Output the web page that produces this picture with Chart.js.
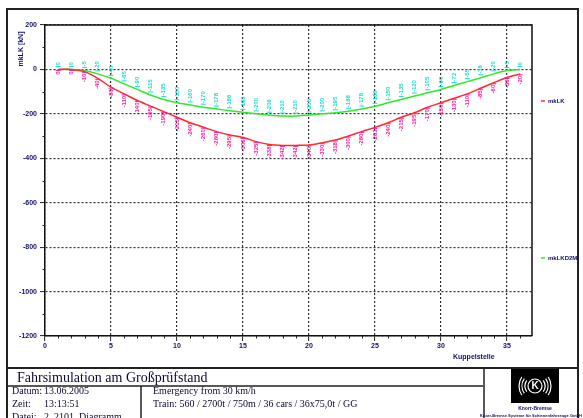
<!DOCTYPE html>
<html>
<head>
<meta charset="utf-8">
<script src="https://cdn.jsdelivr.net/npm/chart.js@4/dist/chart.umd.min.js"></script>
<style>
  html, body { margin: 0; padding: 0; background: #fff; }
  #wrap { width: 583px; height: 418px; position: relative; }
</style>
</head>
<body>
<div id="wrap"><canvas id="chart" width="583" height="418"></canvas></div>
<script>
// Kuppelstelle 1..36
const kuppelstelle = [1,2,3,4,5,6,7,8,9,10,11,12,13,14,15,16,17,18,19,20,21,22,23,24,25,26,27,28,29,30,31,32,33,34,35,36];
const mkLK = [0,0,-10,-40,-80,-110,-140,-165,-190,-215,-240,-260,-280,-295,-306,-325,-338,-342,-342,-340,-330,-318,-300,-280,-261,-240,-215,-195,-170,-150,-130,-110,-85,-60,-36,-20];
const mkLKD2M = [0,0,-5,-20,-40,-65,-90,-115,-135,-150,-160,-170,-178,-186,-193,-200,-206,-210,-210,-205,-200,-195,-188,-178,-166,-150,-135,-120,-105,-90,-72,-55,-38,-20,-5,0];
const seriesNames = ['mkLK', 'mkLKD2M'];
const seriesColors = ['#ff2a2a', '#2ee82e'];
const labelColors = ['#ff1aa0', '#19dcd0'];

const toPoints = vals => kuppelstelle.map((k, i) => ({ x: k, y: vals[i] }));

// frame, info box, minor ticks, value labels, legend
const decor = {
  id: 'decor',
  beforeDraw(chart) {
    const ctx = chart.ctx;
    ctx.save();
    ctx.fillStyle = '#fff';
    ctx.fillRect(0, 0, chart.width, chart.height);
    ctx.restore();
  },
  afterDraw(chart) {
    const ctx = chart.ctx;
    const xs = chart.scales.x, ys = chart.scales.y;
    const a = chart.chartArea;
    ctx.save();

    // outer frame
    ctx.strokeStyle = '#222';
    ctx.lineWidth = 2;
    ctx.beginPath();
    ctx.moveTo(7, 420); ctx.lineTo(7, 9); ctx.lineTo(578, 9); ctx.lineTo(578, 420);
    ctx.stroke();

    // plot box top/right
    ctx.lineWidth = 1.5;
    ctx.strokeStyle = '#111';
    ctx.beginPath();
    ctx.moveTo(a.left, a.top); ctx.lineTo(a.right, a.top); ctx.lineTo(a.right, a.bottom);
    ctx.stroke();

    // minor ticks
    ctx.lineWidth = 1;
    ctx.strokeStyle = '#222';
    ctx.beginPath();
    for (let v = 1; v < 37; v++) {
      if (v % 5 === 0) continue;
      const px = Math.round(xs.getPixelForValue(v)) + 0.5;
      ctx.moveTo(px, a.bottom); ctx.lineTo(px, a.bottom + 2.5);
    }
    for (let v = -1100; v < 200; v += 200) {
      const py = Math.round(ys.getPixelForValue(v)) + 0.5;
      ctx.moveTo(a.left - 2.5, py); ctx.lineTo(a.left, py);
    }
    ctx.stroke();

    // value labels at every point
    ctx.font = 'bold 6px "Liberation Sans", Arial, sans-serif';
    ctx.textBaseline = 'middle';
    [mkLK, mkLKD2M].forEach((vals, s) => {
      vals.forEach((v, i) => {
        const px = xs.getPixelForValue(kuppelstelle[i]);
        const py = ys.getPixelForValue(v);
        ctx.save();
        ctx.fillStyle = labelColors[s];
        ctx.strokeStyle = labelColors[s];
        ctx.lineWidth = 1;
        ctx.beginPath();
        if (s === 0) {
          ctx.moveTo(px - 2.5, py + 1); ctx.lineTo(px + 2.5, py + 1);
        } else {
          ctx.moveTo(px - 2.5, py - 3); ctx.lineTo(px + 2.5, py - 3);
        }
        ctx.stroke();
        ctx.translate(px, s === 0 ? py + 2 : py - 4);
        ctx.rotate(-Math.PI / 2);
        ctx.textAlign = s === 0 ? 'right' : 'left';
        ctx.fillText(String(Math.round(v)), 0, 0);
        ctx.restore();
      });
    });

    // axis titles
    ctx.fillStyle = '#10106a';
    ctx.font = 'bold 7px "Liberation Sans", Arial, sans-serif';
    ctx.save();
    ctx.translate(21, 49);
    ctx.rotate(-Math.PI / 2);
    ctx.textAlign = 'center';
    ctx.textBaseline = 'middle';
    ctx.fillText('mkLK [kN]', 0, 0);
    ctx.restore();
    ctx.textAlign = 'left';
    ctx.textBaseline = 'middle';
    ctx.fillText('Kuppelstelle', 453, 357);

    // legend
    const legY = [101, 258];
    seriesNames.forEach((n, s) => {
      ctx.strokeStyle = seriesColors[s];
      ctx.lineWidth = 1.5;
      ctx.beginPath();
      ctx.moveTo(541, legY[s]); ctx.lineTo(545, legY[s]);
      ctx.stroke();
      ctx.fillStyle = '#10106a';
      ctx.font = 'bold 6px "Liberation Sans", Arial, sans-serif';
      ctx.fillText(n, 548, legY[s]);
    });

    // info box
    ctx.strokeStyle = '#222';
    ctx.lineWidth = 2;
    ctx.beginPath();
    ctx.moveTo(7, 368); ctx.lineTo(578, 368);
    ctx.stroke();
    ctx.lineWidth = 1.5;
    ctx.beginPath();
    ctx.moveTo(7, 386); ctx.lineTo(483, 386);
    ctx.moveTo(484, 368); ctx.lineTo(484, 420);
    ctx.moveTo(141, 386); ctx.lineTo(141, 420);
    ctx.stroke();

    ctx.fillStyle = '#0a0a30';
    ctx.textBaseline = 'alphabetic';
    ctx.font = '14px "Liberation Serif", "Times New Roman", serif';
    ctx.fillText('Fahrsimulation am Großprüfstand', 17, 382);
    ctx.font = '10px "Liberation Serif", "Times New Roman", serif';
    ctx.fillText('Datum:', 12, 394);
    ctx.fillText('13.06.2005', 44, 394);
    ctx.fillText('Zeit:', 12, 407);
    ctx.fillText('13:13:51', 44, 407);
    ctx.fillText('Datei:', 12, 420);
    ctx.fillText('2_2101_Diagramm', 44, 420);
    ctx.fillText('Emergency from 30 km/h', 153, 394);
    ctx.fillText('Train: 560 / 2700t / 750m / 36 cars / 36x75,0t / GG', 153, 407);

    // logo
    ctx.fillStyle = '#000';
    ctx.fillRect(511, 369, 48, 34);
    ctx.strokeStyle = '#fff';
    ctx.lineWidth = 1.2;
    ctx.beginPath();
    ctx.arc(535, 386, 7, 0, Math.PI * 2);
    ctx.stroke();
    [10, 13, 16].forEach(r => {
      ctx.beginPath(); ctx.arc(535, 386, r, -0.6, 0.6); ctx.stroke();
      ctx.beginPath(); ctx.arc(535, 386, r, Math.PI - 0.6, Math.PI + 0.6); ctx.stroke();
    });
    ctx.fillStyle = '#fff';
    ctx.font = 'bold 10px "Liberation Sans", Arial, sans-serif';
    ctx.textAlign = 'center';
    ctx.textBaseline = 'middle';
    ctx.fillText('K', 535, 386.5);
    ctx.fillStyle = '#10106a';
    ctx.font = 'bold 5px "Liberation Sans", Arial, sans-serif';
    ctx.fillText('Knorr-Bremse', 535, 409);
    ctx.font = 'bold 4px "Liberation Sans", Arial, sans-serif';
    ctx.fillText('Knorr-Bremse Systeme für Schienenfahrzeuge GmbH', 531, 416);

    ctx.restore();
  }
};

const tickFont = { family: '"Liberation Sans", Arial, sans-serif', size: 7, weight: 'bold' };

new Chart(document.getElementById('chart'), {
  type: 'line',
  data: {
    datasets: [
      {
        label: seriesNames[0],
        data: toPoints(mkLK),
        borderColor: seriesColors[0],
        borderWidth: 1.5,
        pointRadius: 0,
        tension: 0.3,
        fill: false
      },
      {
        label: seriesNames[1],
        data: toPoints(mkLKD2M),
        borderColor: seriesColors[1],
        borderWidth: 1.5,
        pointRadius: 0,
        tension: 0.3,
        fill: false
      }
    ]
  },
  options: {
    responsive: false,
    animation: false,
    layout: { padding: { left: 0, top: 25, right: 51, bottom: 52 } },
    plugins: { legend: { display: false }, tooltip: { enabled: false } },
    scales: {
      x: {
        type: 'linear',
        min: 0,
        max: 36.9,
        afterFit: s => { s.height = 30; },
        ticks: {
          stepSize: 5,
          includeBounds: false,
          autoSkip: false,
          maxRotation: 0,
          padding: 1,
          color: '#10106a',
          font: tickFont,
          callback: v => (v % 5 === 0 ? String(v) : '')
        },
        grid: { color: '#333', lineWidth: 1.2, tickLength: 5, tickColor: '#222', tickWidth: 1 },
        border: { color: '#111', width: 1.5, dash: [2, 2] }
      },
      y: {
        min: -1200,
        max: 200,
        afterFit: s => { s.width = 45; },
        ticks: {
          stepSize: 200,
          padding: 3,
          color: '#10106a',
          font: tickFont,
          callback: v => String(v)
        },
        grid: { color: '#333', lineWidth: 1.2, tickLength: 5, tickColor: '#222', tickWidth: 1 },
        border: { color: '#111', width: 1.5, dash: [2, 2] }
      }
    }
  },
  plugins: [decor]
});
</script>
</body>
</html>
